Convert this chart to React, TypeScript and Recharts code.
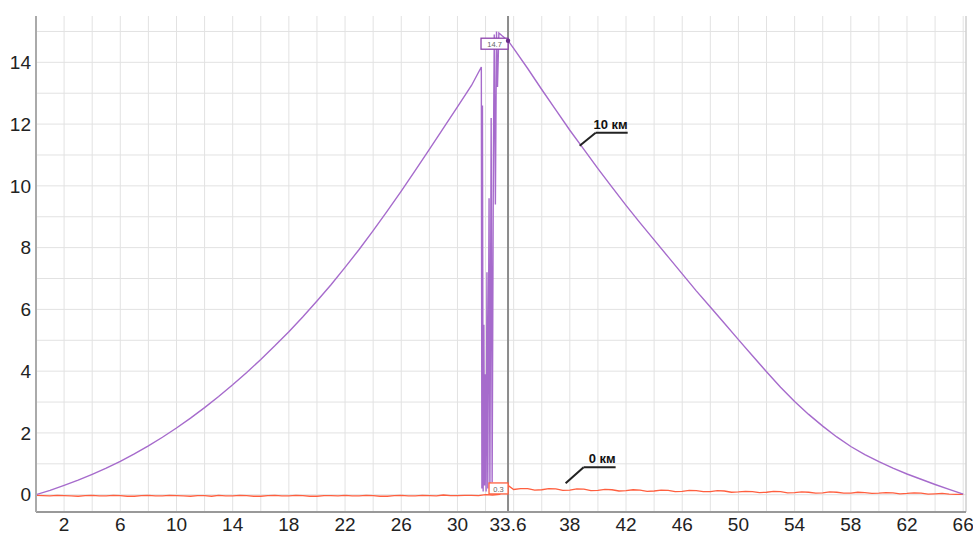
import React from "react";
import {
  LineChart,
  Line,
  XAxis,
  YAxis,
  CartesianGrid,
  ReferenceLine,
  ReferenceDot,
} from "recharts";

// axis ticks and grid positions
const xTicks = [2, 6, 10, 14, 18, 22, 26, 30, 33.6, 38, 42, 46, 50, 54, 58, 62, 66];
const yTicks = [0, 2, 4, 6, 8, 10, 12, 14];
const xGrid = [0, 2, 4, 6, 8, 10, 12, 14, 16, 18, 20, 22, 24, 26, 28, 30, 32, 34, 36, 38, 40, 42, 44, 46, 48, 50, 52, 54, 56, 58, 60, 62, 64, 66];
const yGrid = [0, 1, 2, 3, 4, 5, 6, 7, 8, 9, 10, 11, 12, 13, 14, 15];

// "10 км" trace: rising part, breakdown spikes, falling part
const km10Rise: [number, number][] = [
  [0, 0], [1, 0.14], [2, 0.3], [3, 0.47], [4, 0.66], [5, 0.86], [6, 1.08], [7, 1.32],
  [8, 1.58], [9, 1.86], [10, 2.16], [11, 2.48], [12, 2.82], [13, 3.18], [14, 3.56],
  [15, 3.96], [16, 4.38], [17, 4.82], [18, 5.28], [19, 5.76], [20, 6.27], [21, 6.8],
  [22, 7.36], [23, 7.94], [24, 8.55], [25, 9.18], [26, 9.83], [27, 10.5], [28, 11.18],
  [29, 11.87], [30, 12.56], [31, 13.25], [31.7, 13.85],
];
const km10Spikes: [number, number][] = [
  [31.74, 0.2], [31.78, 12.6], [31.83, 0.1], [31.88, 5.5], [31.93, 0.3], [31.98, 3.9],
  [32.04, 0.1], [32.1, 7.2], [32.16, 0.2], [32.25, 9.6], [32.31, 0.2], [32.4, 12.2],
  [32.47, 0.4], [32.56, 11.0], [32.62, 14.9], [32.7, 9.4], [32.78, 15.0], [32.85, 13.2],
  [32.95, 14.95], [33.2, 14.85],
];
const km10Fall: [number, number][] = [
  [33.6, 14.7], [34, 14.45], [35, 13.8], [36, 13.12], [37, 12.46], [38, 11.8], [39, 11.18],
  [40, 10.56], [41, 9.96], [42, 9.37], [43, 8.8], [44, 8.25], [45, 7.7], [46, 7.15],
  [47, 6.6], [48, 6.08], [49, 5.55], [50, 5.02], [51, 4.5], [52, 3.98], [53, 3.48],
  [54, 3.02], [55, 2.6], [56, 2.22], [57, 1.87], [58, 1.56], [59, 1.3], [60, 1.07],
  [61, 0.86], [62, 0.67], [63, 0.5], [64, 0.33], [65, 0.17], [66, 0.02],
];

// "0 км" trace
const km0Points: [number, number][] = [
  [0, -0.02], [0.5, -0.03], [1, -0.04], [1.5, -0.02], [2, -0.03], [2.5, -0.04], [3, -0.05],
  [3.5, -0.03], [4, -0.02], [4.5, -0.04], [5, -0.04], [5.5, -0.02], [6, -0.03], [6.5, -0.05],
  [7, -0.05], [7.5, -0.03], [8, -0.02], [8.5, -0.04], [9, -0.04], [9.5, -0.02], [10, -0.03],
  [10.5, -0.04], [11, -0.05], [11.5, -0.03], [12, -0.03], [12.5, -0.05], [13, -0.02],
  [13.5, -0.04], [14, -0.04], [14.5, -0.02], [15, -0.03], [15.5, -0.05], [16, -0.05],
  [16.5, -0.03], [17, -0.02], [17.5, -0.04], [18, -0.04], [18.5, -0.02], [19, -0.03],
  [19.5, -0.05], [20, -0.05], [20.5, -0.03], [21, -0.03], [21.5, -0.04], [22, -0.02],
  [22.5, -0.04], [23, -0.04], [23.5, -0.02], [24, -0.03], [24.5, -0.05], [25, -0.05],
  [25.5, -0.03], [26, -0.02], [26.5, -0.04], [27, -0.04], [27.5, -0.02], [28, -0.03],
  [28.5, -0.04], [29, -0.01], [29.5, -0.03], [30, -0.03], [30.5, -0.02], [31, -0.02],
  [31.5, -0.03], [32, 0.0], [32.5, -0.01], [33, 0.01], [33.6, 0.3],
  [34, 0.17], [34.5, 0.2], [35, 0.2], [35.5, 0.15], [36, 0.16], [36.5, 0.2], [37, 0.19],
  [37.5, 0.14], [38, 0.15], [38.5, 0.19], [39, 0.18], [39.5, 0.13], [40, 0.14], [40.5, 0.17],
  [41, 0.16], [41.5, 0.12], [42, 0.13], [42.5, 0.16], [43, 0.15], [43.5, 0.11], [44, 0.12],
  [44.5, 0.15], [45, 0.14], [45.5, 0.1], [46, 0.11], [46.5, 0.14], [47, 0.13], [47.5, 0.1],
  [48, 0.1], [48.5, 0.13], [49, 0.12], [49.5, 0.08], [50, 0.09], [50.5, 0.11], [51, 0.1],
  [51.5, 0.07], [52, 0.08], [52.5, 0.11], [53, 0.1], [53.5, 0.06], [54, 0.07], [54.5, 0.09],
  [55, 0.08], [55.5, 0.05], [56, 0.06], [56.5, 0.09], [57, 0.08], [57.5, 0.05], [58, 0.05],
  [58.5, 0.08], [59, 0.07], [59.5, 0.04], [60, 0.05], [60.5, 0.07], [61, 0.06], [61.5, 0.03],
  [62, 0.04], [62.5, 0.06], [63, 0.05], [63.5, 0.02], [64, 0.03], [64.5, 0.04], [65, 0.02],
  [65.5, 0.01], [66, 0.01],
];

const cursorX = 33.6;
const km10Value = 14.7;
const km0Value = 0.3;

const km10Data = [...km10Rise, ...km10Spikes, ...km10Fall].map(([x, y]) => ({ x, y }));
const km0Data = km0Points.map(([x, y]) => ({ x, y }));

const PURPLE = "#a66bcc";
const ORANGE = "#ff5f3f";

// small boxed value read-out to the left of the cursor
function ValueBox(props: any) {
  const { cx, cy, text, color, w, dot } = props;
  const h = 11;
  return (
    <g>
      <rect x={cx - w} y={cy - h / 2 + 3} width={w} height={h} fill="#fff" stroke={color} strokeWidth={1.3} />
      <text x={cx - w / 2} y={cy + 6.5} textAnchor="middle" fontSize={7.5} fill="#666" fontFamily="Liberation Sans, Arial, sans-serif">
        {text}
      </text>
      {dot && <circle cx={cx} cy={cy} r={2.2} fill="#6a2d8c" />}
    </g>
  );
}

// leader line with underlined caption
function Callout(props: any) {
  const { cx, cy, text, dx, dy, len } = props;
  return (
    <g>
      <line x1={cx} y1={cy} x2={cx + dx} y2={cy - dy} stroke="#222" strokeWidth={2} />
      <line x1={cx + dx} y1={cy - dy} x2={cx + dx + len} y2={cy - dy} stroke="#222" strokeWidth={2} />
      <text x={cx + dx + len} y={cy - dy - 4} textAnchor="end" fontSize={13} fontWeight="bold" fill="#111" fontFamily="Liberation Sans, Arial, sans-serif">
        {text}
      </text>
    </g>
  );
}

export default function App() {
  const tickStyle = { fill: "#222", fontSize: 19, fontFamily: "Liberation Sans, Arial, sans-serif" };
  return (
    <div style={{ position: "absolute", left: 0, top: 0, width: 973, height: 536, background: "#fff" }}>
      <LineChart width={973} height={536} margin={{ top: 16, right: 7, left: 0, bottom: 0 }}>
        <CartesianGrid stroke="#e2e2e2" strokeWidth={1} verticalValues={xGrid} horizontalValues={yGrid} />
        <XAxis
          type="number"
          dataKey="x"
          domain={[0, 66.2]}
          ticks={xTicks}
          interval={0}
          allowDataOverflow
          height={24}
          tickSize={0}
          tickMargin={6}
          tick={tickStyle}
          axisLine={{ stroke: "#999", strokeWidth: 2 }}
        />
        <YAxis
          type="number"
          domain={[-0.56, 15.5]}
          ticks={yTicks}
          interval={0}
          allowDataOverflow
          width={36}
          tickSize={0}
          tickMargin={5}
          tick={tickStyle}
          axisLine={{ stroke: "#aaa", strokeWidth: 2 }}
        />
        <ReferenceLine x={66.2} stroke="#cfcfcf" strokeWidth={1.5} />
        <ReferenceLine x={cursorX} stroke="#8c8c8c" strokeWidth={2} />
        <Line data={km0Data} dataKey="y" type="linear" stroke={ORANGE} strokeWidth={1.3} dot={false} isAnimationActive={false} />
        <Line data={km10Data} dataKey="y" type="linear" stroke={PURPLE} strokeWidth={1.4} dot={false} isAnimationActive={false} />
        <ReferenceDot x={38.7} y={11.3} r={0} shape={(p: any) => <Callout {...p} text="10 км" dx={16} dy={13} len={32} />} />
        <ReferenceDot x={37.7} y={0.37} r={0} shape={(p: any) => <Callout {...p} text="0 км" dx={18} dy={16} len={32} />} />
        <ReferenceDot x={cursorX} y={km10Value} r={0} shape={(p: any) => <ValueBox {...p} text={String(km10Value)} color="#8e44ad" w={27} dot />} />
        <ReferenceDot x={cursorX} y={km0Value} r={0} shape={(p: any) => <ValueBox {...p} text={String(km0Value)} color={ORANGE} w={19} />} />
      </LineChart>
    </div>
  );
}
